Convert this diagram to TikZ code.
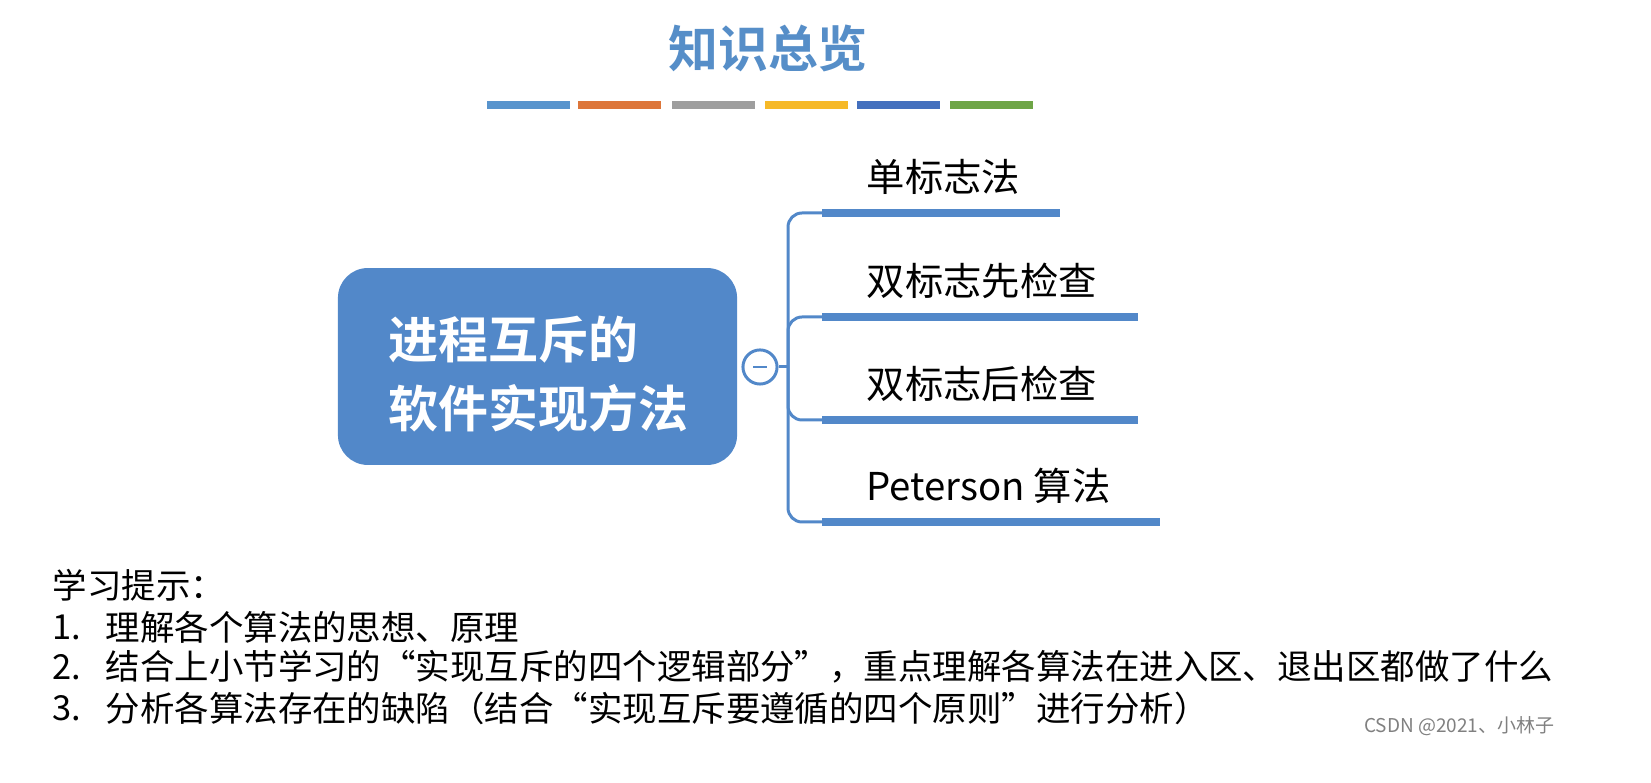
\documentclass[tikz,border=0pt]{standalone}
\usepackage{fontspec}
\newfontfamily\cjk{Noto Sans CJK SC}
\newfontfamily\cjkb{Noto Sans CJK SC Bold}
\definecolor{mblue}{RGB}{82,136,201}
\definecolor{tblue}{RGB}{86,142,200}
\definecolor{bA}{RGB}{88,148,205}
\definecolor{bB}{RGB}{221,118,58}
\definecolor{bC}{RGB}{158,158,158}
\definecolor{bD}{RGB}{246,185,40}
\definecolor{bE}{RGB}{68,112,190}
\definecolor{bF}{RGB}{110,165,70}
\tikzset{
  bar/.style={line width=2.3pt},
  uline/.style={draw=mblue,line width=2.3pt},
  conn/.style={draw=mblue,line width=0.85pt,rounded corners=4pt},
  lab/.style={anchor=west,font=\cjk\fontsize{10.9pt}{13pt}\selectfont,inner sep=0},
  tip/.style={anchor=west,font=\cjk\fontsize{9.8pt}{12pt}\selectfont,inner sep=0}
}
\begin{document}
\begin{tikzpicture}[x=0.01cm,y=-0.01cm]
\useasboundingbox (0,0) rectangle (1651,783);
\node[font=\cjkb\fontsize{14.2pt}{16pt}\selectfont,text=tblue] (title) at (768,48) {知识总览};
\foreach \a/\c in {487/bA,578/bB,672/bC,765/bD,857/bE,950/bF}
  \draw[bar,draw=\c] (\a,105) -- ++(83,0);
\node[fill=mblue,rounded corners=8.5pt,minimum width=113.5pt,minimum height=56pt,inner sep=0] (main) at (537.5,366.5) {};
\node[anchor=west,align=left,text=white,font=\cjkb\fontsize{14.2pt}{19.5pt}\selectfont,inner sep=0] (mt) at (388,374) {进程互斥的\\软件实现方法};
\node[circle,draw=mblue,fill=white,line width=0.85pt,minimum size=9.7pt,inner sep=0] (col) at (760,367) {};
\draw[mblue,line width=0.7pt] (753,367) -- (767,367);
\coordinate (j) at (788,367);
\foreach \i/\y/\e/\t in {1/213/1060/单标志法,2/317/1138/双标志先检查,3/420/1138/双标志后检查,4/522/1160/Peterson 算法}{
  \coordinate (s\i) at (822,\y);
  \coordinate (e\i) at (\e,\y);
  \draw[uline] (s\i) -- (e\i);
  \node[lab] (l\i) at (866,\y-36) {\t};
}
\draw[conn] (col.east) -- (j);
\draw[conn] (s1) -| (j) |- (s4);
\draw[conn] (s2) -| (j) |- (s3);
\node[tip] (t0) at (52,585) {学习提示：};
\node[tip] (n1) at (52,627) {1.};
\node[tip] (t1) at (105,627) {理解各个算法的思想、原理};
\node[tip] (n2) at (52,667) {2.};
\node[tip] (t2) at (105,667) {结合上小节学习的“实现互斥的四个逻辑部分”，重点理解各算法在进入区、退出区都做了什么};
\node[tip] (n3) at (52,708) {3.};
\node[tip] (t3) at (105,708) {分析各算法存在的缺陷（结合“实现互斥要遵循的四个原则”进行分析）};
\node[anchor=east,text=gray,font=\cjk\fontsize{5.4pt}{6pt}\selectfont,inner sep=0] (csdn) at (1555,726) {CSDN @2021、小林子};
\end{tikzpicture}
\end{document}
